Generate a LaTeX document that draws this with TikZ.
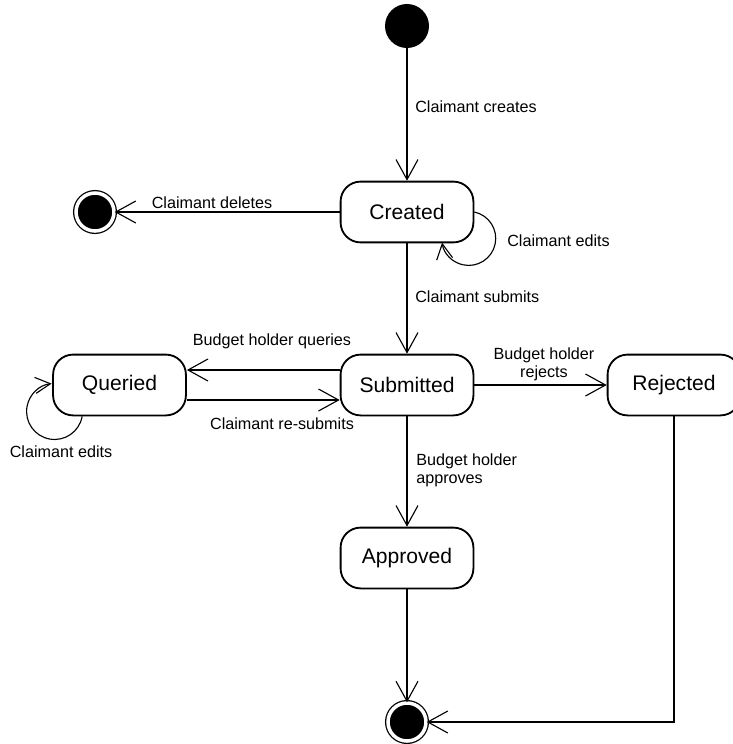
\documentclass[tikz,border=0pt]{standalone}
\usepackage{fontspec}
\setmainfont{Liberation Sans}
\usetikzlibrary{calc, arrows.meta}

\begin{document}
\begin{tikzpicture}[
  x=0.025cm, y=0.025cm,
  font=\fontsize{11.5}{13}\selectfont,
  statebox/.style={draw, line width=1.3pt, rounded corners=0.5cm,
    minimum width=3.32cm, minimum height=1.52cm, font=\fontsize{15}{18}\selectfont},
  startdot/.style={circle, fill=black, minimum size=1.1cm, inner sep=0},
  enddot/.style={circle, draw, fill=black, double=white, double distance=2.5pt,
    line width=0.9pt, minimum size=0.95cm, inner sep=0},
  trans/.style={line width=0.8pt, -{Straight Barb[length=0.5cm, width=0.55cm]}},
  selfloop/.style={line width=0.8pt, -{Straight Barb[length=0.38cm, width=0.4cm]}},
  lbl/.style={inner sep=0},
]
\useasboundingbox (0,0) rectangle (732,-744);

% States
\node[startdot] (init) at (407,-26) {};
\node[statebox] (created)   at (407,-212) {Created};
\node[statebox] (submitted) at (407,-385) {Submitted};
\node[statebox] (queried)   at (119.5,-385) {Queried};
\node[statebox] (rejected)  at (674,-385) {Rejected};
\node[statebox] (approved)  at (407,-558) {Approved};
\node[enddot] (endDeleted) at (95,-212) {};
\node[enddot] (endDone)    at (407,-722) {};

% Transitions
\draw[trans] (init) -- (created);
\draw[trans] (created) -- (endDeleted);
\draw[selfloop] (created.east) arc[start angle=78, end angle=-171, radius=27];
\draw[trans] (created) -- (submitted);
\draw[trans] ($(submitted.west)+(0,15)$) -- ($(queried.east)+(0,15)$);
\draw[trans] ($(queried.east)+(0,-15)$) -- ($(submitted.west)+(0,-15)$);
\draw[selfloop] ($(queried.south west)+(30,0)$) arc[start angle=-10, end angle=-264, radius=28];
\draw[trans] (submitted) -- (rejected);
\draw[trans] (submitted) -- (approved);
\draw[trans] (approved) -- (endDone);
\draw[trans] (rejected.south) |- (endDone);

% Labels
\node[lbl, anchor=west] (lblCreates) at (415,-107) {Claimant creates};
\node[lbl] (lblDeletes) at (212,-203) {Claimant deletes};
\node[lbl, anchor=west] (lblEditsC) at (507,-241) {Claimant edits};
\node[lbl, anchor=west] (lblSubmits) at (415,-297) {Claimant submits};
\node[lbl] (lblQueries) at (272,-341) {Budget holder queries};
\node[lbl] (lblResubmits) at (282,-424) {Claimant re-submits};
\node[lbl, align=center] (lblRejects) at (544,-364) {Budget holder\\rejects};
\node[lbl, anchor=west, align=left] (lblApproves) at (416,-470) {Budget holder\\approves};
\node[lbl] (lblEditsQ) at (61,-452) {Claimant edits};

\end{tikzpicture}
\end{document}
